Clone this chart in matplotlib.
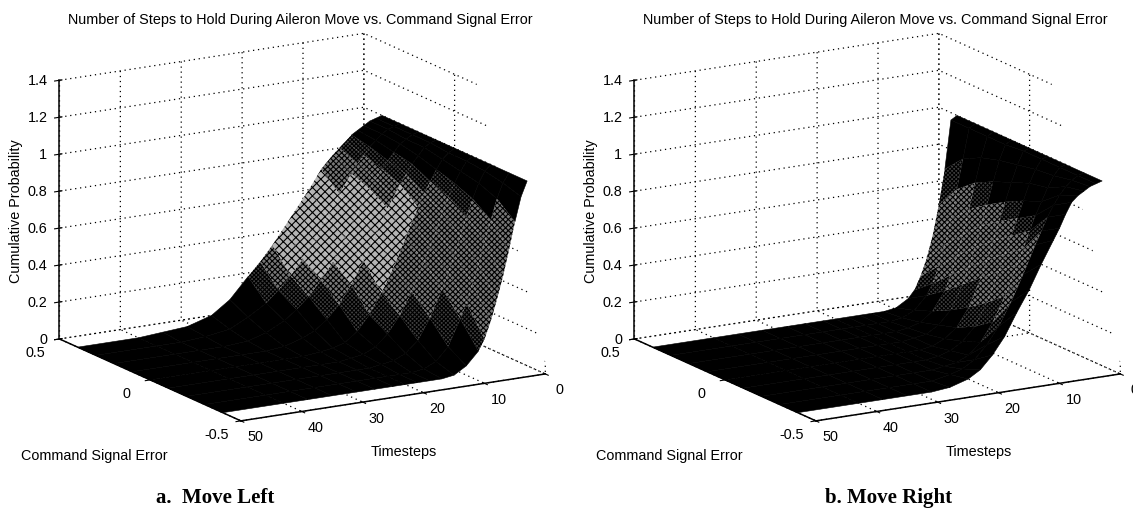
import numpy as np
import matplotlib
matplotlib.use("Agg")
import matplotlib.pyplot as plt
from matplotlib.patches import Polygon
from mpl_toolkits.mplot3d import proj3d
from mpl_toolkits.mplot3d.art3d import Poly3DCollection

plt.rcParams['font.family'] = ['Liberation Sans', 'DejaVu Sans']
plt.rcParams['grid.color'] = 'black'
plt.rcParams['grid.linewidth'] = 0.9
plt.rcParams['grid.linestyle'] = (0, (1, 3))
plt.rcParams['hatch.linewidth'] = 0.8

# axes ticks
error_ticks = [-0.5, 0, 0.5]
time_ticks = [0, 10, 20, 30, 40, 50]
prob_ticks = [0, 0.2, 0.4, 0.6, 0.8, 1, 1.2, 1.4]
prob_labels = ['0', '0.2', '0.4', '0.6', '0.8', '1', '1.2', '1.4']
error_labels = ['-0.5', '0', '0.5']
time_labels = ['0', '10', '20', '30', '40', '50']

title = "Number of Steps to Hold During Aileron Move vs. Command Signal Error"

# grid of the surface
errors = [-0.4, -0.3, -0.2, -0.1, 0, 0.1, 0.2, 0.3, 0.4]
steps = [0, 1, 2, 3, 4, 5, 6, 7, 8, 10, 12, 14, 16, 18, 20, 22, 25, 28, 32, 36, 40, 50]

# move left : one list per error value, one number per timestep
left_m04 = [1, .92, .79, .64, .50, .38, .27, .18, .12, .05, .01, 0, 0, 0, 0, 0, 0, 0, 0, 0, 0, 0]
left_m03 = [1, .95, .87, .76, .65, .53, .43, .33, .25, .11, .04, .01, 0, 0, 0, 0, 0, 0, 0, 0, 0, 0]
left_m02 = [1, .97, .91, .83, .74, .64, .54, .45, .37, .22, .11, .05, .02, .01, 0, 0, 0, 0, 0, 0, 0, 0]
left_m01 = [1, .98, .93, .87, .80, .72, .63, .55, .47, .32, .20, .11, .05, .02, .01, 0, 0, 0, 0, 0, 0, 0]
left_000 = [1, .98, .95, .90, .84, .78, .71, .64, .56, .41, .28, .17, .09, .04, .02, .01, 0, 0, 0, 0, 0, 0]
left_p01 = [1, .99, .97, .93, .89, .84, .79, .73, .67, .54, .41, .29, .19, .12, .07, .04, .01, 0, 0, 0, 0, 0]
left_p02 = [1, .99, .97, .95, .91, .87, .83, .78, .73, .61, .49, .37, .28, .20, .14, .09, .04, .01, 0, 0, 0, 0]
left_p03 = [1, .99, .98, .96, .93, .90, .86, .82, .77, .67, .56, .44, .35, .27, .20, .14, .08, .03, .01, 0, 0, 0]
left_p04 = [1, .99, .98, .96, .94, .92, .89, .86, .83, .76, .66, .57, .48, .39, .31, .24, .13, .06, .02, .01, 0, 0]

# move right
right_m04 = [1, .99, .98, .96, .94, .91, .85, .78, .72, .60, .47, .36, .24, .15, .08, .04, .01, 0, 0, 0, 0, 0]
right_m03 = [1, .99, .97, .94, .90, .85, .79, .72, .65, .50, .36, .24, .15, .08, .04, .02, 0, 0, 0, 0, 0, 0]
right_m02 = [1, .99, .95, .89, .82, .75, .67, .58, .50, .34, .21, .11, .05, .02, .01, 0, 0, 0, 0, 0, 0, 0]
right_m01 = [1, .99, .94, .87, .78, .69, .60, .51, .42, .26, .14, .07, .03, .01, 0, 0, 0, 0, 0, 0, 0, 0]
right_000 = [1, .99, .92, .83, .73, .63, .53, .43, .34, .19, .09, .04, .01, 0, 0, 0, 0, 0, 0, 0, 0, 0]
right_p01 = [1, .98, .90, .79, .67, .56, .45, .35, .26, .13, .06, .02, .01, 0, 0, 0, 0, 0, 0, 0, 0, 0]
right_p02 = [1, .98, .87, .74, .60, .47, .36, .26, .18, .08, .03, .01, 0, 0, 0, 0, 0, 0, 0, 0, 0, 0]
right_p03 = [1, .98, .82, .66, .50, .37, .26, .17, .11, .04, .01, 0, 0, 0, 0, 0, 0, 0, 0, 0, 0, 0]
right_p04 = [1, .98, .72, .53, .37, .25, .16, .09, .05, .01, 0, 0, 0, 0, 0, 0, 0, 0, 0, 0, 0, 0]

left_table = np.array([left_m04, left_m03, left_m02, left_m01, left_000, left_p01, left_p02, left_p03, left_p04])
right_table = np.array([right_m04, right_m03, right_m02, right_m01, right_000, right_p01, right_p02, right_p03, right_p04])

W, H = 1133, 510
fig = plt.figure(figsize=(W / 100, H / 100), dpi=100)


def draw_surface(ax, table, lo, hi_m, hi_p, min_err, band, band_err):
    # the mesh of the original is so tight that it turns black where the surface is flat,
    # so facets go in groups: black, nearly black, tight hatch, open hatch
    groups = {0: [], 1: [], 2: [], 3: []}
    for i in range(len(errors) - 1):
        for j in range(len(steps) - 1):
            quad = [(errors[i], steps[j], table[i, j]), (errors[i + 1], steps[j], table[i + 1, j]),
                    (errors[i + 1], steps[j + 1], table[i + 1, j + 1]), (errors[i], steps[j + 1], table[i, j + 1])]
            em = (errors[i] + errors[i + 1]) / 2
            zm = np.mean(table[i:i + 2, j:j + 2])
            hi = np.interp(em, [-0.4, 0.4], [hi_m, hi_p])
            if zm < lo or zm > hi or em < min_err:
                groups[0].append(quad)
            elif zm < lo + 0.08 or zm > hi - 0.06:
                groups[1].append(quad)
            elif band[0] < zm < band[1] and em > band_err:
                groups[3].append(quad)
            else:
                groups[2].append(quad)
    ax.add_collection3d(Poly3DCollection(groups[0], facecolors='black', edgecolors='black', linewidths=0.4, zorder=2))
    ax.add_collection3d(Poly3DCollection(groups[1], facecolors='#404040', edgecolors='black', linewidths=0,
                                         hatch='xxxxxxxx', zorder=3))
    ax.add_collection3d(Poly3DCollection(groups[2], facecolors='#787878', edgecolors='black', linewidths=0,
                                         hatch='xxxxxx', zorder=4))
    if groups[3]:
        ax.add_collection3d(Poly3DCollection(groups[3], facecolors='#b4b4b4', edgecolors='black', linewidths=0,
                                             hatch='xxxx', zorder=5))


def draw_panel(table, left_px, offset, caption, cap_x, shade):
    ax = fig.add_axes([left_px / W, 20 / H, 510 / W, 510 / H], projection='3d', proj_type='ortho',
                      computed_zorder=False)
    ax.view_init(elev=15.3, azim=149.7)
    ax.set_box_aspect((360, 353, 268.5), zoom=1.086)
    ax.patch.set_alpha(0)

    ax.set_xlim(-0.5, 0.5, view_margin=0)
    ax.set_ylim(0, 50, view_margin=0)
    ax.set_zlim(0, 1.4, view_margin=0)
    ax.set_xticks(error_ticks, [''] * len(error_ticks))
    ax.set_yticks(time_ticks, [''] * len(time_ticks))
    ax.set_zticks(prob_ticks, [''] * len(prob_ticks))
    ax.zaxis.set_ticks_position('upper')
    ax.tick_params(length=3, width=0.8, color='black')
    for a in (ax.xaxis, ax.yaxis, ax.zaxis):
        a.set_pane_color((1, 1, 1, 0))
        a.pane.set_edgecolor('none')
        a.line.set_color('black')
        a.line.set_linewidth(1.1)

    # the scan of the original cuts the right wall off along a slanted line
    cut = [(473 + offset, 70), (547 + offset, 370), (575 + offset, 370), (575 + offset, 70)]
    cover = Polygon([(px / W, 1 - py / H) for px, py in cut], transform=fig.transFigure,
                    facecolor='white', edgecolor='none', zorder=1, clip_on=False)
    cover.do_3d_projection = lambda: 0  # Axes3D.draw calls this on every patch
    ax.add_patch(cover)

    draw_surface(ax, table, *shade)

    # tick labels sit at a fixed offset from their tick on the projected axes
    proj = ax.get_proj()
    for val, lab in zip(error_ticks, error_labels):
        px, py, _ = proj3d.proj_transform(val, 50, 0, proj)
        ax.annotate(lab, (px, py), xytext=(-24, -13), textcoords='offset pixels', fontsize=10.4,
                    ha='center', va='center', annotation_clip=False, zorder=6)
    for val, lab in zip(time_ticks, time_labels):
        px, py, _ = proj3d.proj_transform(-0.5, val, 0, proj)
        ax.annotate(lab, (px, py), xytext=(14, -15.5), textcoords='offset pixels', fontsize=10.4,
                    ha='center', va='center', annotation_clip=False, zorder=6)
    for val, lab in zip(prob_ticks, prob_labels):
        px, py, _ = proj3d.proj_transform(0.5, 50, val, proj)
        ax.annotate(lab, (px, py), xytext=(-12, 0), textcoords='offset pixels', fontsize=10.4,
                    ha='right', va='center', annotation_clip=False, zorder=6)

    fig.text((300 + offset) / W, 1 - 20 / H, title, fontsize=10.4, ha='center', va='center')
    fig.text((94 + offset) / W, 1 - 456 / H, "Command Signal Error", fontsize=10.4, ha='center', va='center')
    fig.text((404 + offset) / W, 1 - 452 / H, "Timesteps", fontsize=10.4, ha='center', va='center')
    fig.text((16 + offset) / W, 1 - 211 / H, "Cumulative Probability", fontsize=10.4, rotation=90, ha='center', va='center')
    fig.text(cap_x / W, 1 - 498 / H, caption, fontsize=15, fontweight='bold', family='Liberation Serif',
             ha='center', va='center')


draw_panel(left_table, 40.5, 0, "a.  Move Left", 215, (0.16, 0.82, 0.92, -0.5, (0.3, 0.72), 0.0))
draw_panel(right_table, 615.5, 575, "b. Move Right", 889, (0.16, 0.72, 0.72, -0.25, (0, 0), 2))

fig.savefig("out.png", dpi=100)
